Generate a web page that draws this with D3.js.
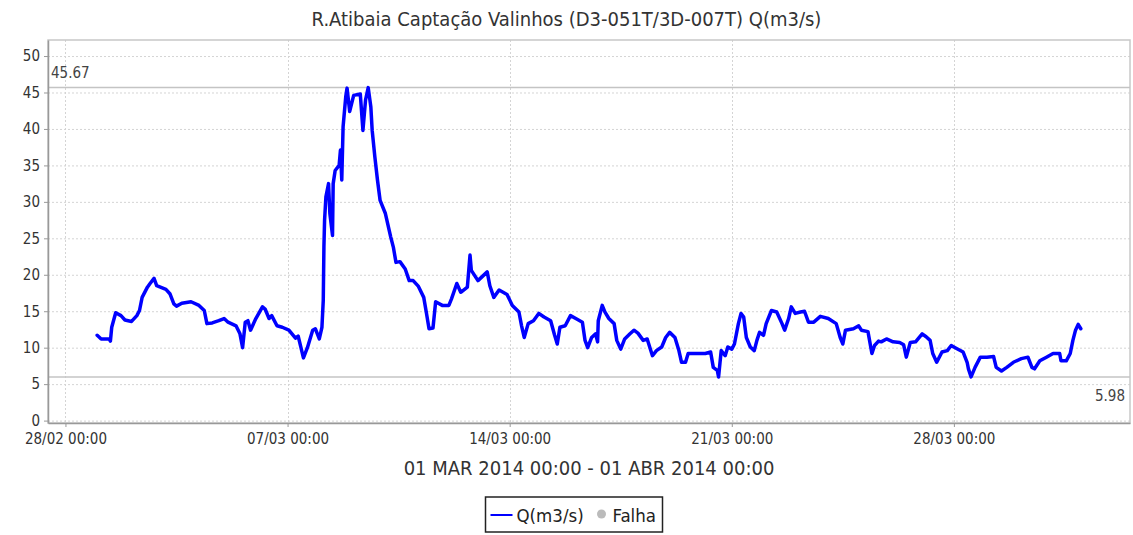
<!DOCTYPE html>
<html>
<head>
<meta charset="utf-8">
<script src="https://cdn.jsdelivr.net/npm/d3@7"></script>
<style>
  body { margin: 0; background: #fff; }
  text { font-family: "DejaVu Sans Condensed", "DejaVu Sans", sans-serif; }
</style>
</head>
<body>
<svg id="chart"></svg>
<script>
// hours since 01 MAR 2014 00:00 and flow in m3/s
var hours = [0, 3, 9, 10, 11, 14, 18, 21, 26, 30, 32, 34, 38, 40, 43, 45, 52, 55, 58, 60,
  64, 71, 77, 81, 83, 87, 92, 96, 99, 105, 108, 110, 112, 114, 116, 120, 125, 127, 130, 132,
  136, 140, 145, 150, 152, 154, 156, 159, 163, 165, 168, 170, 171, 171.5, 172, 173, 175, 176, 178, 178.5,
  180, 183, 184, 185, 186, 188, 189, 191, 194, 199, 201, 203, 205, 207, 208, 210, 212, 214, 218, 222,
  224, 226, 229, 233, 236, 239, 243, 247, 249, 251, 254, 256, 261, 266, 268, 272, 275, 280, 282, 283,
  288, 295, 297, 300, 304, 307, 310, 314, 319, 321, 323, 326, 330, 334, 338, 343, 346, 348, 350, 354,
  358, 362, 367, 369, 371, 374, 377, 378.5, 379, 382, 384, 387, 391, 393, 396, 399, 403, 406, 409, 413,
  416, 420, 423, 427, 430, 433, 437, 440, 442, 445, 447, 454, 460, 464, 466, 469, 470, 472, 475, 477,
  480, 482, 485, 487, 489, 491, 494, 497, 499, 501, 504, 506, 510, 514, 518, 520, 523, 525, 528, 532,
  535, 538, 542, 547, 553, 559, 562, 564, 566, 572, 576, 578, 583, 586, 588, 591, 593, 597, 602, 607,
  610, 612, 615, 619, 624, 627, 630, 632, 635, 639, 643, 646, 650, 655, 658, 659, 661, 664, 668, 673,
  678, 680, 684, 688, 693, 699, 704, 707, 709, 713, 718, 723, 728, 729, 733, 736, 738, 740, 742, 744];
var flow = [11.7, 11.2, 11.2, 10.9, 12.8, 14.8, 14.4, 13.8, 13.6, 14.4, 15.1, 16.9, 18.3, 18.8, 19.5, 18.5, 18.0, 17.4, 16.0, 15.7,
  16.1, 16.3, 15.8, 15.1, 13.3, 13.4, 13.7, 14.0, 13.5, 13.0, 11.9, 10.0, 13.5, 13.7, 12.4, 14.0, 15.6, 15.3, 14.0, 14.4,
  13.0, 12.8, 12.4, 11.3, 11.6, 10.1, 8.6, 10.0, 12.4, 12.6, 11.2, 12.8, 16.5, 23.8, 27.5, 30.7, 32.5, 28.4, 25.4, 32.5,
  34.3, 35.0, 37.1, 33.0, 40.3, 44.4, 45.6, 42.4, 44.6, 44.8, 39.8, 44.0, 45.67, 43.0, 39.8, 36.2, 33.0, 30.2, 28.4, 25.2,
  23.8, 21.7, 21.8, 20.8, 19.2, 19.2, 18.4, 16.9, 14.8, 12.6, 12.7, 16.3, 15.8, 15.8, 16.7, 18.8, 17.6, 18.3, 22.7, 20.6,
  19.2, 20.4, 18.5, 16.9, 17.9, 17.6, 17.3, 15.8, 14.9, 13.0, 11.4, 13.3, 13.7, 14.7, 14.2, 13.7, 11.7, 10.5, 12.8, 13.0,
  14.4, 14.0, 13.5, 11.0, 10.0, 11.4, 11.9, 10.8, 13.7, 15.8, 14.9, 14.0, 13.3, 11.0, 9.8, 11.2, 11.9, 12.4, 12.0, 11.0,
  11.2, 8.9, 9.6, 10.1, 11.4, 12.1, 11.4, 9.6, 8.0, 8.0, 9.2, 9.2, 9.2, 9.4, 7.3, 6.9, 5.98, 9.6, 8.9, 10.1,
  9.8, 10.5, 13.3, 14.7, 14.2, 11.4, 10.1, 9.6, 11.0, 12.1, 11.7, 13.3, 15.1, 14.9, 13.3, 12.4, 14.0, 15.6, 14.7, 14.9,
  15.0, 13.5, 13.5, 14.3, 14.0, 13.3, 11.4, 10.5, 12.4, 12.6, 13.0, 12.4, 12.2, 9.2, 10.3, 10.9, 10.8, 11.2, 10.8, 10.7,
  10.4, 8.7, 10.7, 10.8, 11.9, 11.5, 11.0, 9.2, 8.0, 9.4, 9.6, 10.3, 9.9, 9.4, 8.0, 7.1, 6.0, 7.3, 8.7, 8.7,
  8.8, 7.3, 6.8, 7.3, 8.0, 8.5, 8.7, 7.3, 7.1, 8.2, 8.7, 9.2, 9.2, 8.2, 8.2, 9.2, 11.0, 12.4, 13.2, 12.6];
var xTickDates = ["2014-02-28", "2014-03-07", "2014-03-14", "2014-03-21", "2014-03-28"];
var yTicks = [0, 5, 10, 15, 20, 25, 30, 35, 40, 45, 50];
var maxValue = 45.67, minValue = 5.98;

var svgWidth = 1133, svgHeight = 535;
var margin = { top: 40, right: 3, bottom: 112, left: 48 };
var width = svgWidth - margin.left - margin.right;
var height = svgHeight - margin.top - margin.bottom;

var svg = d3.select("#chart")
  .attr("width", svgWidth)
  .attr("height", svgHeight);

var start = new Date(2014, 2, 1);
var data = hours.map(function(h, i) {
  return { date: new Date(start.getTime() + h * 3600000), value: flow[i] };
});

var span = 31 * 86400000 * 0.05;
var x = d3.scaleTime()
  .domain([new Date(start.getTime() - span), new Date(start.getTime() + 744 * 3600000 + span)])
  .range([0, width]);
var y = d3.scaleLinear().domain([-0.33, 52.2]).range([height, 0]);

var tickDates = xTickDates.map(function(s) { return d3.timeParse("%Y-%m-%d")(s); });

svg.append("text")
  .attr("x", svgWidth / 2)
  .attr("y", 26)
  .attr("text-anchor", "middle")
  .attr("font-size", 20)
  .attr("fill", "#333")
  .text("R.Atibaia Captação Valinhos (D3-051T/3D-007T) Q(m3/s)");

var g = svg.append("g")
  .attr("transform", "translate(" + margin.left + "," + margin.top + ")");

// grid
g.append("g").selectAll("line").data(yTicks).enter().append("line")
  .attr("x1", 0).attr("x2", width)
  .attr("y1", function(d) { return y(d) + 0.5; })
  .attr("y2", function(d) { return y(d) + 0.5; })
  .attr("stroke", "#d4d4d4").attr("stroke-dasharray", "2,2");
g.append("g").selectAll("line").data(tickDates).enter().append("line")
  .attr("y1", 0).attr("y2", height)
  .attr("x1", function(d) { return Math.round(x(d)) + 0.5; })
  .attr("x2", function(d) { return Math.round(x(d)) + 0.5; })
  .attr("stroke", "#d4d4d4").attr("stroke-dasharray", "2,2");

// plot outline
g.append("rect")
  .attr("width", width).attr("height", height)
  .attr("fill", "none").attr("stroke", "#c8c8c8").attr("stroke-width", 1.5);

// max / min markers
[maxValue, minValue].forEach(function(v) {
  g.append("line")
    .attr("x1", 0).attr("x2", width)
    .attr("y1", y(v)).attr("y2", y(v))
    .attr("stroke", "#c4c4c4").attr("stroke-width", 1.5);
});
g.append("text")
  .attr("x", 3).attr("y", y(maxValue) - 10)
  .attr("font-size", 15).attr("fill", "#444")
  .text(maxValue.toFixed(2));
g.append("text")
  .attr("x", width - 5).attr("y", y(minValue) + 24)
  .attr("text-anchor", "end")
  .attr("font-size", 15).attr("fill", "#444")
  .text(minValue.toFixed(2));

// axes
var xAxis = g.append("g")
  .attr("transform", "translate(0," + height + ")")
  .call(d3.axisBottom(x).tickValues(tickDates).tickFormat(d3.timeFormat("%d/%m %H:%M")).tickSize(4).tickSizeOuter(0));
var yAxis = g.append("g")
  .call(d3.axisLeft(y).tickValues(yTicks).tickSize(4).tickSizeOuter(0));
[xAxis, yAxis].forEach(function(a) {
  a.select(".domain").attr("stroke", "#999").attr("stroke-width", 1.5);
  a.selectAll(".tick line").attr("stroke", "#999");
  a.selectAll(".tick text").attr("font-size", 15).attr("fill", "#333")
    .attr("font-family", "'DejaVu Sans Condensed', 'DejaVu Sans', sans-serif");
});
xAxis.selectAll(".tick text").attr("dy", "0.9em");
yAxis.selectAll(".tick text").attr("x", -8);

// series
var line = d3.line()
  .x(function(d) { return x(d.date); })
  .y(function(d) { return y(d.value); });
g.append("path")
  .datum(data)
  .attr("fill", "none")
  .attr("stroke", "#0000ff")
  .attr("stroke-width", 3.5)
  .attr("stroke-linejoin", "round")
  .attr("stroke-linecap", "round")
  .attr("d", line);

// range label
svg.append("text")
  .attr("x", margin.left + width / 2)
  .attr("y", 475)
  .attr("text-anchor", "middle")
  .attr("font-size", 20)
  .attr("fill", "#333")
  .text("01 MAR 2014 00:00 - 01 ABR 2014 00:00");

// legend
var lg = svg.append("g").attr("transform", "translate(485.5,497)");
lg.append("rect").attr("width", 177).attr("height", 35)
  .attr("fill", "#fff").attr("stroke", "#222").attr("stroke-width", 1.5);
lg.append("line").attr("x1", 5).attr("x2", 27).attr("y1", 18).attr("y2", 18)
  .attr("stroke", "#0000ff").attr("stroke-width", 2);
lg.append("text").attr("x", 31).attr("y", 25).attr("font-size", 18.5).attr("fill", "#222").text("Q(m3/s)");
lg.append("circle").attr("cx", 116).attr("cy", 17).attr("r", 4.5).attr("fill", "#bbb");
lg.append("text").attr("x", 127).attr("y", 25).attr("font-size", 18.5).attr("fill", "#222").text("Falha");
</script>
</body>
</html>
